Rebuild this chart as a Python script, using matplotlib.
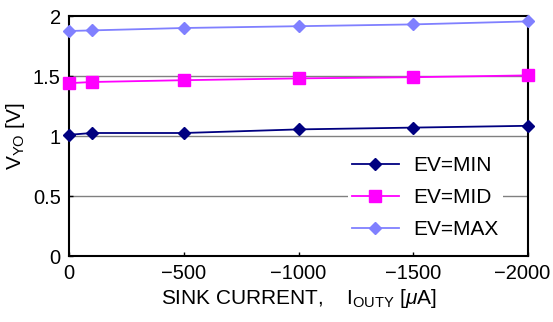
import matplotlib
matplotlib.use("Agg")
import matplotlib.pyplot as plt
import matplotlib.transforms as mtransforms

plt.rcParams['font.family'] = ['Liberation Sans', 'DejaVu Sans']
plt.rcParams['mathtext.fontset'] = 'custom'
plt.rcParams['mathtext.rm'] = 'Liberation Sans'
plt.rcParams['mathtext.it'] = 'Liberation Sans:italic'

# ---------- Data ----------
current = [0, -100, -500, -1000, -1500, -2000]
v_min = [1.01, 1.025, 1.025, 1.055, 1.07, 1.085]
v_mid = [1.44, 1.45, 1.465, 1.48, 1.49, 1.505]
v_max = [1.875, 1.88, 1.9, 1.915, 1.93, 1.955]

series = [
    ("EV=MIN", v_min, "#000080", "D", 6),
    ("EV=MID", v_mid, "#ff00ff", "s", 8),
    ("EV=MAX", v_max, "#8080ff", "D", 6),
]

fig = plt.figure(figsize=(5.53, 3.22), dpi=100)
ax = fig.add_axes([69 / 553, 1 - 256 / 322, (528 - 69) / 553, (256 - 16) / 322])

for y in [0.5, 1.0, 1.5]:
    ax.axhline(y, color="#808080", linewidth=1.0, zorder=1)

for name, vals, color, marker, ms in series:
    ax.plot(current, vals, color=color, marker=marker, markersize=ms,
            linewidth=1.3, label=name, zorder=3, clip_on=False)

ax.set_xlim(0, -2000)
ax.set_ylim(0, 2)
ax.set_xticks([0, -500, -1000, -1500, -2000])
ax.set_xticklabels(["0", "\u2212500", "\u22121000", "\u22121500", "\u22122000"])
ax.set_yticks([0, 0.5, 1, 1.5, 2])
ax.set_yticklabels(["0", "0.5", "1", "1.5", "2"])
ax.tick_params(direction="in", length=3, labelsize=14.5, pad=6, width=1)
for sp in ax.spines.values():
    sp.set_linewidth(1.5)

# nudge last x tick label left so it stays inside the figure
last = ax.get_xticklabels()[-1]
last.set_transform(last.get_transform() +
                   mtransforms.ScaledTranslation(-6 / 100, 0, fig.dpi_scale_trans))

ax.set_xlabel("SINK CURRENT,    I$_{\\mathrm{OUTY}}$ [$\\mu$A]", fontsize=15, labelpad=3)
ax.set_ylabel("V$_{\\mathrm{YO}}$ [V]", fontsize=15, labelpad=4)

leg = ax.legend(loc="lower right", bbox_to_anchor=(0.945, 0.053), frameon=True,
                fontsize=15, handlelength=2.25, labelspacing=0.62,
                borderaxespad=0.0, borderpad=0.2, handletextpad=0.7)
leg.get_frame().set_edgecolor("none")
leg.get_frame().set_facecolor("white")
leg.get_frame().set_alpha(1.0)
leg.set_zorder(2)

fig.savefig("out.png", dpi=100)
